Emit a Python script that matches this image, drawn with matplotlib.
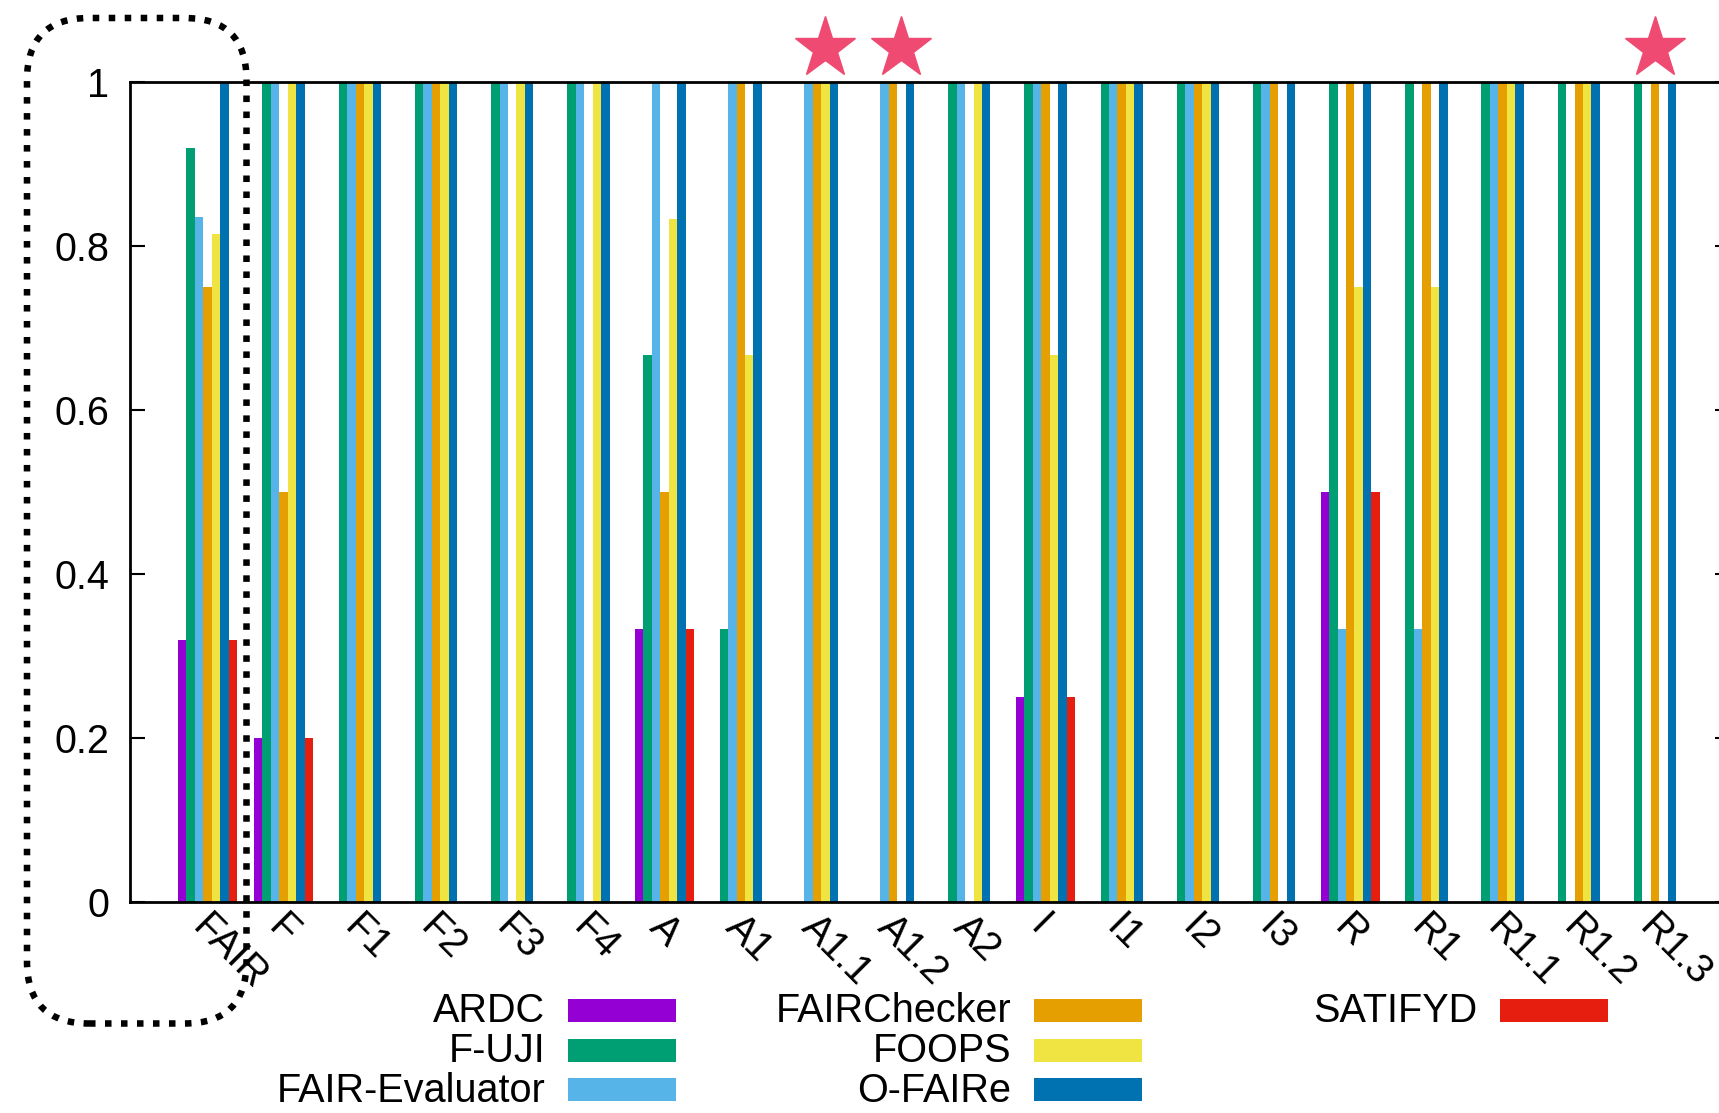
import numpy as np
import matplotlib.pyplot as plt
from matplotlib.patches import FancyBboxPatch, Rectangle
from matplotlib.transforms import IdentityTransform, ScaledTranslation

plt.rcParams['font.family'] = ['Liberation Sans', 'DejaVu Sans']

categories = ["FAIR", "F", "F1", "F2", "F3", "F4", "A", "A1", "A1.1", "A1.2",
              "A2", "I", "I1", "I2", "I3", "R", "R1", "R1.1", "R1.2", "R1.3"]

ardc        = [0.32, 0.2, 0, 0, 0, 0, 0.333, 0, 0, 0, 0, 0.25, 0, 0, 0, 0.5, 0, 0, 0, 0]
fuji        = [0.92, 1, 1, 1, 1, 1, 0.667, 0.333, 0, 0, 1, 1, 1, 1, 1, 1, 1, 1, 1, 1]
fair_eval   = [0.835, 1, 1, 1, 1, 1, 1, 1, 1, 1, 1, 1, 1, 1, 1, 0.333, 0.333, 1, 0, 0]
fairchecker = [0.75, 0.5, 1, 1, 0, 0, 0.5, 1, 1, 1, 0, 1, 1, 1, 1, 1, 1, 1, 1, 1]
foops       = [0.815, 1, 1, 1, 1, 1, 0.833, 0.667, 1, 0, 1, 0.667, 1, 1, 0, 0.75, 0.75, 1, 1, 0]
ofaire      = [1, 1, 1, 1, 1, 1, 1, 1, 1, 1, 1, 1, 1, 1, 1, 1, 1, 1, 1, 1]
satifyd     = [0.32, 0.2, 0, 0, 0, 0, 0.333, 0, 0, 0, 0, 0.25, 0, 0, 0, 0.5, 0, 0, 0, 0]

series_names = ["ARDC", "F-UJI", "FAIR-Evaluator", "FAIRChecker", "FOOPS", "O-FAIRe", "SATIFYD"]
series_values = [ardc, fuji, fair_eval, fairchecker, foops, ofaire, satifyd]
colors = ["#9400d3", "#009e73", "#56b4e9", "#e69f00", "#f0e442", "#0072b2", "#e51e10"]

yticks = [0, 0.2, 0.4, 0.6, 0.8, 1]
ytick_labels = ["0", "0.2", "0.4", "0.6", "0.8", "1"]
starred = ["A1.1", "A1.2", "R1.3"]

W, H = 1719, 1113
FS = 28.5
fig = plt.figure(figsize=(W / 100, H / 100), dpi=100)
ax = fig.add_axes([130 / W, (H - 902) / H, 1600 / W, 820 / H])

x = np.arange(len(categories))
bw = 1 / 9
for i, (vals, c) in enumerate(zip(series_values, colors)):
    ax.bar(x + (i - 3) * bw, vals, width=bw, color=c, linewidth=0)

ax.set_xlim(-1.017, 19.985)
ax.set_ylim(0, 1)
for s in ax.spines.values():
    s.set_linewidth(2)

ax.set_yticks(yticks)
ax.set_yticklabels(ytick_labels)
ax.tick_params(axis='y', direction='in', length=11, width=1.5, right=True,
               pad=15, labelsize=FS)
ax.set_xticks(x)
ax.set_xticklabels(categories, rotation=-45, ha='left', va='top',
                   rotation_mode='anchor', fontsize=FS)
ax.tick_params(axis='x', length=0, pad=4)
shift = ScaledTranslation(3 / 72, 0, fig.dpi_scale_trans)
for lab in ax.get_xticklabels():
    lab.set_transform(lab.get_transform() + shift)

# stars above the top edge
star_x = [categories.index(s) + (0.1 if s != "R1.3" else 0) for s in starred]
ax.plot(star_x, [1.041] * len(star_x), ls='none', marker='*', ms=46,
        color="#ef4a72", clip_on=False)

# dotted rounded box round the FAIR group
box = FancyBboxPatch((27, H - 1023.5), 219.5, 1005.5,
                     boxstyle="round,pad=0,rounding_size=62",
                     transform=IdentityTransform(), fill=False,
                     edgecolor='black', linewidth=4.7,
                     linestyle=(0, (1, 1.45)), capstyle='butt')
fig.add_artist(box)

# legend, gnuplot style: right-aligned label then swatch
text_right = [545, 1011, 1477]
swatch_left = [568, 1034, 1500]
row_y = [1010, 1050, 1089]
for i, (name, c) in enumerate(zip(series_names, colors)):
    col, row = divmod(i, 3)
    yc = row_y[row]
    fig.text(text_right[col] / W, 1 - (yc + 1.5) / H, name, ha='right', va='center',
             fontsize=FS)
    fig.add_artist(Rectangle((swatch_left[col] / W, 1 - (yc + 11.5) / H),
                             108 / W, 23 / H, transform=fig.transFigure,
                             facecolor=c, edgecolor='none'))

fig.savefig('out.png', dpi=100)
